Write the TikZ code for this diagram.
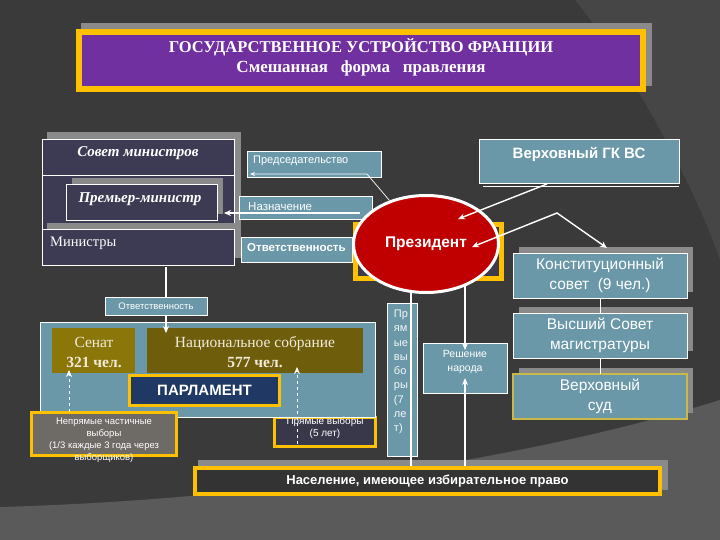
\documentclass[tikz,border=0pt]{standalone}
\usepackage{fontspec}
\setmainfont{Liberation Serif}
\setsansfont{Liberation Sans}
\usetikzlibrary{calc,arrows.meta,shapes.geometric}
\newcommand{\setfs}[2]{\fontsize{#1}{#2}\selectfont}
\definecolor{bgc}{HTML}{3A3A3A}
\definecolor{bgl}{HTML}{464646}
\definecolor{bgb}{HTML}{5A5A5A}
\definecolor{shc}{HTML}{8A8A8A}
\definecolor{purp}{HTML}{7030A0}
\definecolor{yel}{HTML}{FFC000}
\definecolor{darkc}{HTML}{3D3B54}
\definecolor{darkc2}{HTML}{3D3B4A}
\definecolor{darkc3}{HTML}{38384A}
\definecolor{tealc}{HTML}{6A98A8}
\definecolor{redc}{HTML}{C00000}
\definecolor{oliveA}{HTML}{8B760A}
\definecolor{oliveB}{HTML}{6E5E0C}
\definecolor{navyc}{HTML}{1F3864}
\definecolor{grayc}{HTML}{6E6A66}
\definecolor{nasc}{HTML}{333333}
\definecolor{khaki}{HTML}{C9B84A}
\definecolor{cream}{HTML}{F2EBD9}
\begin{document}
\begin{tikzpicture}[x=1pt,y=-1pt,
  bx/.style={anchor=north west, inner sep=0pt, outer sep=0pt},
  tealbox/.style={bx, fill=tealc, draw=white, line width=0.8pt},
  darkbox/.style={bx, fill=darkc, draw=white, line width=0.8pt},
  txt/.style={text=white, inner sep=0pt, align=center},
  wline/.style={draw=white, line width=0.7pt},
  arr/.style={draw=white, line width=1.4pt, -{Stealth[length=7pt,width=6pt]}},
  arrb/.style={draw=white, line width=1.4pt, {Stealth[length=7pt,width=6pt]}-{Stealth[length=7pt,width=6pt]}},
  rbox/.style={tealbox, minimum width=174pt, minimum height=45pt, text=white, align=center, font=\sffamily\setfs{15.5}{19.5}}]
% background
\fill[bgc] (0,0) rectangle (720,540);
\useasboundingbox (0,0) rectangle (720,540);
\fill[bgl] (575,0) .. controls (640,80) and (700,200) .. (720,260) -- (720,0) -- cycle;
\fill[bgb] (0,507) .. controls (250,500) and (520,462) .. (720,400) -- (720,540) -- (0,540) -- cycle;

% title
\fill[shc] (81,23) rectangle (652,86);
\node[bx, fill=purp, draw=yel, line width=6pt, minimum width=564pt, minimum height=57pt] (title) at (79,32) {};
\node[txt, font=\bfseries\setfs{16.5}{18}] (t1) at (361,47) {ГОСУДАРСТВЕННОЕ УСТРОЙСТВО ФРАНЦИИ};
\node[txt, font=\bfseries\setfs{17}{19}] (t2) at (361,68) {Смешанная\ \ \ форма\ \ \ правления};

% Council of ministers
\fill[shc] (47,132) rectangle (241,258);
\node[darkbox, minimum width=192pt, minimum height=126pt] (sm) at (42,139) {};
\draw[wline] ($(sm.north west)+(0,36)$) -- ($(sm.north east)+(0,36)$);
\node[txt, font=\bfseries\itshape\setfs{15}{17}] (smt) at (138,153) {Совет министров};
\fill[shc] (72,178) rectangle (223,214);
\node[darkbox, minimum width=151pt, minimum height=36pt] (prem) at (66,184) {};
\node[txt, font=\bfseries\itshape\setfs{15}{17}] (premt) at (140,199) {Премьер-министр};
\fill[shc] (47,223) rectangle (240,258);
\node[darkbox, minimum width=192pt, minimum height=36pt] (min) at (42,229) {};
\node[txt, anchor=west, font=\setfs{14.5}{16}] (mint) at (50,243) {Министры};

% teal label boxes
\node[tealbox, minimum width=134pt, minimum height=26pt] (pred) at (247,151) {};
\node[txt, anchor=west, font=\sffamily\setfs{11}{13}] (predt) at ($(pred.west)+(6,-3)$) {Председательство};
\node[tealbox, minimum width=133pt, minimum height=23pt] (naz) at (239,196) {};
\node[txt, anchor=west, font=\sffamily\setfs{11.5}{13}] (nazt) at ($(naz.west)+(9,-1)$) {Назначение};
\node[tealbox, minimum width=111pt, minimum height=25pt] (otv) at (241,237) {};
\node[txt, anchor=west, font=\sffamily\bfseries\setfs{11.5}{13}] (otvt) at ($(otv.west)+(6,-2)$) {Ответственность};

% president
\node[bx, fill=darkc2, draw=yel, line width=5pt, minimum width=146pt, minimum height=53pt] (pyel) at (355,225) {};
\node[ellipse, fill=redc, draw=white, line width=3pt, minimum width=145pt, minimum height=97pt, inner sep=0pt, text=white, font=\sffamily\bfseries\setfs{15.5}{17}] (pres) at (426,244) {Президент};

% right column
\node[tealbox, minimum width=200pt, minimum height=44pt] (vgk) at (479,139) {};
\draw[wline] ($(vgk.south west)+(4,3)$) -- ($(vgk.south east)+(0,3)$);
\node[txt, font=\sffamily\bfseries\setfs{15}{17}] (vgkt) at (579,154) {Верховный ГК ВС};
\fill[shc] (519,247) rectangle (693,292);
\node[rbox] (ks) at (513,253) {Конституционный\\совет\ \ (9 чел.)};
\fill[shc] (519,307) rectangle (693,351);
\node[rbox] (vs) at (513,313) {Высший Совет\\магистратуры};
\fill[shc] (519,368) rectangle (693,413);
\node[rbox, draw=khaki, line width=1.2pt] (vsud) at (513,374) {Верховный\\суд};
\draw[wline, line width=1pt] (ks.south) -- (vs.north);
\draw[wline, line width=1pt] (vs.south) -- (vsud.north);

% connectors around president
\draw[wline, -{Stealth[length=5pt,width=4pt]}] (pres.130) -- ($(pred.south west)+(120,-3)$) -- ($(pred.south west)+(3,-3)$);
\draw[arr] ($(naz.south east)+(-12,-6)$) -- ($(prem.south east)+(7,-7)$);
\draw[arr] ($(vgk.south)+(-32,1)$) -- ($(pres.center)+(32,-25)$);
\coordinate (vm) at (557,213);
\draw[arrb] ($(pres.center)+(46,3)$) -- (vm) -- ($(ks.north)+(7,-5)$);

% parliament
\node[bx, fill=darkc3, draw=yel, line width=3pt, minimum width=101pt, minimum height=29pt] (pv5) at (274.5,417.5) {};
\node[tealbox, minimum width=335pt, minimum height=95pt] (parl) at (40,322) {};
\node[bx, fill=oliveA, minimum width=83pt, minimum height=45pt] (sen) at (52,328) {};
\node[txt, text=cream, font=\setfs{15.5}{20}] (sent) at (94,352) {Сенат\\\textbf{321 чел.}};
\node[bx, fill=oliveB, minimum width=216pt, minimum height=45pt] (nat) at (147,328) {};
\node[txt, text=cream, font=\setfs{15.5}{20}] (natt) at (255,352) {Национальное собрание\\\textbf{577 чел.}};
\node[bx, fill=navyc, draw=yel, line width=3pt, minimum width=150pt, minimum height=30pt, text=white, font=\sffamily\bfseries\setfs{15}{17}] (parlt) at (129.5,375.5) {ПАРЛАМЕНТ};
\draw[arr, line width=1.2pt] ($(min.south)+(28,2)$) -- ($(nat.north west)+(19,5)$);
\node[tealbox, minimum width=102pt, minimum height=18pt, text=white, font=\sffamily\setfs{9.5}{11}] (otv2) at (105,297) {Ответственность};
\node[bx, fill=grayc, draw=yel, line width=3pt, minimum width=145pt, minimum height=43pt] (nepr) at (31.5,412.5) {};
\node[txt, font=\sffamily\setfs{9.5}{12}] (neprt) at (104,440) {Непрямые частичные\\выборы\\(1/3 каждые 3 года через\\выборщиков)};
\node[txt, font=\sffamily\setfs{10}{12}] (pv5t) at (325,428) {Прямые выборы\\(5 лет)};
\draw[arr, dashed, line width=1pt] ($(nepr.north west)+(37.5,-1)$) -- ($(sen.south west)+(17,-3)$);
\draw[arr, dashed, line width=1pt] ($(pv5.south west)+(22.5,-3)$) -- ($(nat.south west)+(150,-6)$);

% population and direct links
\fill[shc] (198,460) rectangle (668,490);
\node[bx, fill=nasc, draw=yel, line width=4pt, minimum width=465pt, minimum height=26pt, text=white, font=\sffamily\bfseries\setfs{13}{15}] (nas) at (195,468) {Население, имеющее избирательное право};
\node[tealbox, minimum width=30pt, minimum height=153pt] (pv7) at (387,303) {};
\node[txt, align=left, text=white!92!tealc, font=\sffamily\setfs{11}{14.3}] (pv7t) at (401,372) {Пр\\ям\\ые\\вы\\бо\\ры\\(7\\ле\\т)};
\draw[wline, line width=1.2pt] ($(pv7.north east)+(-6,-12)$) -- ($(pv7.south east)+(-6,10)$);
\node[tealbox, minimum width=84pt, minimum height=50pt] (resh) at (423,343) {};
\node[txt, font=\sffamily\setfs{10.5}{14}] (resht) at (465,362) {Решение\\народа};
\draw[arr, line width=1.2pt] ($(pres.center)+(39,40)$) -- ($(resh.north)+(0,7)$);
\draw[arr, line width=1.2pt] ($(resh.center |- nas.north)+(0,-2)$) -- ($(resh.center)+(0,10)$);
\end{tikzpicture}
\end{document}
